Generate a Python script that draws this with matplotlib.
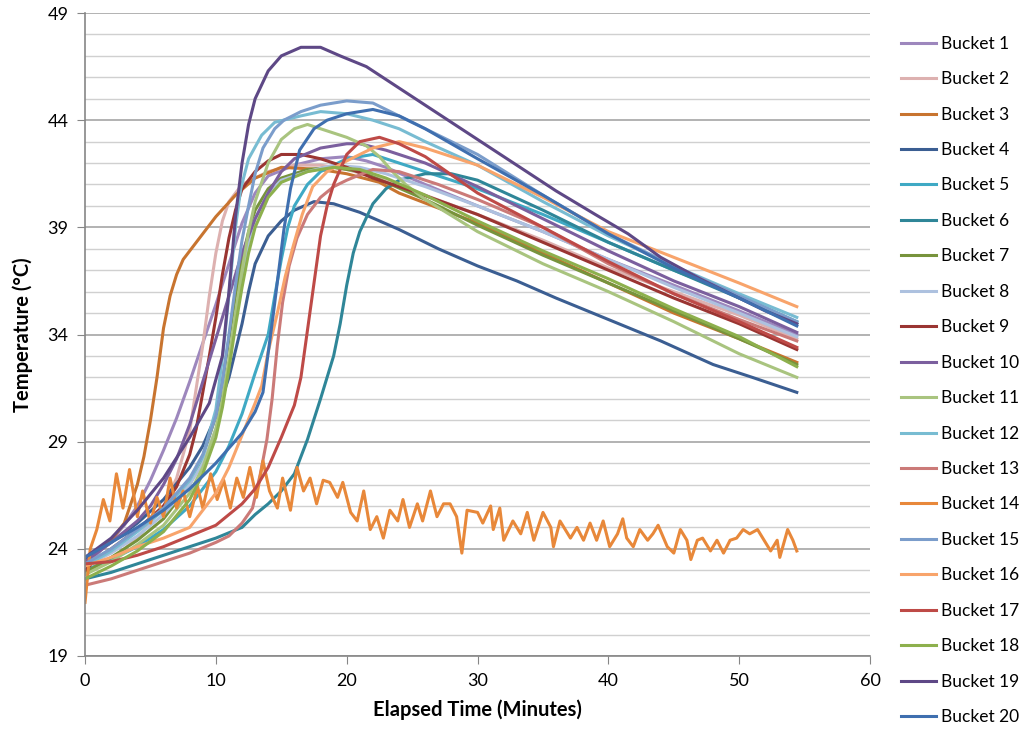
import matplotlib
matplotlib.use("Agg")
import matplotlib.pyplot as plt
from matplotlib.ticker import MultipleLocator

plt.rcParams["font.family"] = ["Lato", "DejaVu Sans"]

# ---- data (minutes, deg C) ----
b1_t = [0, 1, 2, 3, 4, 5, 6, 7, 8, 9, 10, 11, 12, 13, 14, 16, 18, 20, 21.5, 23, 26, 30, 35, 40, 45, 50, 54.4]
b1_temp = [23.3, 23.8, 24.4, 25.1, 26.0, 27.2, 28.6, 30.1, 31.8, 33.6, 35.4, 37.3, 39.2, 40.6, 41.4, 41.9, 42.2, 42.3, 42.1, 41.8, 41.0, 40.0, 38.8, 37.5, 36.3, 35.1, 34.0]

b2_t = [0, 2, 4, 6, 7, 8, 8.5, 9, 9.5, 10, 10.5, 11, 12, 14, 16, 18, 20, 23, 26, 30, 35, 40, 45, 50, 54.4]
b2_temp = [22.8, 23.5, 24.5, 26.0, 27.3, 29.5, 31.5, 33.5, 35.8, 37.8, 39.3, 40.2, 41.0, 41.6, 41.9, 41.9, 41.7, 41.2, 40.5, 39.6, 38.4, 37.1, 36.0, 34.9, 33.8]

b3_t = [0, 1, 2, 3, 4, 4.5, 5, 5.5, 6, 6.5, 7, 7.5, 8.5, 10, 11.5, 13, 15, 18, 20, 22.5, 24, 30, 35, 40, 45, 50, 54.4]
b3_temp = [23.3, 23.9, 24.4, 25.2, 27.0, 28.3, 30.0, 32.0, 34.3, 35.8, 36.8, 37.5, 38.3, 39.5, 40.5, 41.3, 41.8, 41.7, 41.5, 41.1, 40.6, 39.2, 37.8, 36.4, 35.0, 33.8, 32.7]

b4_t = [0, 2, 4, 6, 8, 9, 10, 11, 12, 12.5, 13, 14, 15, 16, 17.5, 19, 21, 24, 27, 30, 33, 36, 40, 44, 48, 51, 54.4]
b4_temp = [23.5, 24.3, 25.2, 26.3, 27.8, 28.8, 30.2, 32.0, 34.5, 36.0, 37.3, 38.6, 39.3, 39.8, 40.2, 40.1, 39.7, 38.9, 38.0, 37.2, 36.5, 35.7, 34.7, 33.7, 32.6, 32.0, 31.3]

b5_t = [0, 2, 4, 6, 8, 10, 11, 12, 13, 14, 14.5, 15, 15.5, 16, 17, 18, 20, 22, 24, 27, 30, 35, 40, 45, 50, 54.4]
b5_temp = [23.0, 23.5, 24.1, 24.9, 26.0, 27.6, 28.8, 30.3, 32.2, 34.0, 35.8, 37.5, 39.0, 40.0, 41.0, 41.6, 42.2, 42.4, 42.0, 41.4, 40.8, 39.6, 38.3, 37.0, 35.8, 34.6]

b6_t = [0, 2, 4, 6, 8, 10, 12, 13, 14, 15, 16, 17, 18, 18.5, 19, 19.5, 20, 20.5, 21, 22, 23, 24, 26, 28, 30, 35, 40, 45, 50, 54.4]
b6_temp = [22.6, 22.9, 23.3, 23.7, 24.1, 24.5, 25.0, 25.6, 26.1, 26.7, 27.5, 29.1, 31.0, 32.0, 33.0, 34.5, 36.3, 37.8, 38.8, 40.1, 40.8, 41.2, 41.5, 41.5, 41.2, 39.8, 38.3, 37.0, 35.7, 34.5]

b7_t = [0, 2, 4, 6, 8, 9, 10, 10.5, 11, 11.5, 12, 12.5, 13, 14, 15, 17, 19, 21, 23, 26, 30, 35, 40, 45, 50, 54.4]
b7_temp = [22.9, 23.6, 24.4, 25.4, 27.0, 28.3, 30.2, 31.8, 33.8, 35.8, 37.5, 38.8, 39.8, 40.8, 41.3, 41.7, 41.8, 41.6, 41.1, 40.3, 39.1, 37.7, 36.4, 35.1, 33.8, 32.6]

b8_t = [0, 2, 4, 6, 8, 9, 10, 10.5, 11, 11.5, 12, 12.5, 13, 14, 15, 17, 19, 21, 23, 26, 30, 35, 40, 45, 50, 54.4]
b8_temp = [23.2, 23.8, 24.6, 25.6, 27.0, 28.0, 29.6, 30.8, 32.6, 34.8, 36.8, 38.3, 39.4, 40.6, 41.2, 41.6, 41.9, 41.8, 41.5, 40.9, 40.0, 38.8, 37.5, 36.2, 35.0, 33.9]

b9_t = [0, 1, 2, 4, 6, 7, 8, 8.5, 9, 9.5, 10, 10.5, 11, 11.5, 12, 13, 14, 15, 16.5, 18, 20, 22, 25, 30, 35, 40, 45, 50, 54.4]
b9_temp = [23.0, 23.6, 24.0, 24.9, 26.0, 26.9, 28.4, 29.6, 31.3, 33.0, 34.8, 36.8, 38.5, 39.8, 40.8, 41.6, 42.1, 42.4, 42.4, 42.2, 41.8, 41.3, 40.7, 39.6, 38.3, 37.0, 35.7, 34.5, 33.3]

b10_t = [0, 2, 4, 5, 6, 7, 8, 9, 10, 11, 12, 13, 14, 15, 16, 18, 20, 21, 23, 26, 30, 35, 40, 45, 50, 54.4]
b10_temp = [23.4, 24.3, 25.3, 26.0, 27.0, 28.2, 29.8, 31.8, 33.8, 35.8, 37.8, 39.4, 40.6, 41.6, 42.2, 42.7, 42.9, 42.9, 42.6, 42.0, 40.9, 39.4, 37.9, 36.5, 35.3, 34.1]

b11_t = [0, 2, 4, 6, 8, 9, 10, 10.5, 11, 11.5, 12, 12.5, 13, 14, 15, 16, 17, 18, 20, 21.5, 22.5, 23.5, 24.5, 26, 30, 35, 40, 45, 50, 54.4]
b11_temp = [22.8, 23.4, 24.2, 25.1, 26.6, 27.8, 29.6, 31.0, 32.8, 35.0, 37.0, 38.8, 40.2, 42.0, 43.1, 43.6, 43.8, 43.6, 43.2, 42.8, 42.3, 41.6, 41.0, 40.3, 38.8, 37.3, 36.0, 34.6, 33.1, 32.0]

b12_t = [0, 2, 4, 6, 8, 9, 10, 10.6, 11.1, 11.5, 11.9, 12.5, 13.5, 14.5, 16.5, 18, 20, 22, 24, 26, 30, 35, 40, 45, 50, 54.4]
b12_temp = [23.2, 23.9, 24.8, 25.8, 27.2, 28.3, 30.5, 33.4, 36.5, 39.0, 40.8, 42.2, 43.3, 43.9, 44.2, 44.4, 44.3, 44.0, 43.6, 43.0, 41.9, 40.2, 38.6, 37.2, 35.9, 34.8]

b13_t = [0, 2, 4, 6, 8, 10, 11, 12, 12.8, 13.4, 13.9, 14.3, 14.7, 15.1, 15.6, 16.2, 17, 18, 19, 20, 22, 24, 27, 30, 35, 40, 45, 50, 54.4]
b13_temp = [22.3, 22.6, 23.0, 23.4, 23.8, 24.3, 24.6, 25.2, 25.9, 27.5, 29.1, 31.0, 33.5, 35.5, 37.2, 38.5, 39.6, 40.4, 40.9, 41.2, 41.7, 41.6, 41.0, 40.3, 39.0, 37.3, 35.9, 34.7, 33.7]

b14_t = [0.0, 0.4, 0.9, 1.4, 1.9, 2.4, 2.9, 3.4, 4.0, 4.4, 5.0, 5.5, 6.0, 6.5, 7.0, 7.5, 8.0, 8.6, 9.0, 9.6,
         10.1, 10.6, 11.1, 11.6, 12.1, 12.6, 13.1, 13.6, 14.1, 14.7, 15.1, 15.7, 16.2, 16.7, 17.2, 17.7, 18.2, 18.7, 19.3, 19.7,
         20.3, 20.8, 21.3, 21.8, 22.3, 22.8, 23.3, 23.9, 24.3, 24.8, 25.4, 25.8, 26.4, 26.9, 27.4,
         27.9, 28.4, 28.8, 29.2, 30.0, 30.4, 31.0, 31.2, 31.7, 32.0, 32.7, 33.3, 33.8, 34.3, 35.0, 35.6, 35.8, 36.3, 37.1,
         37.6, 38.1, 38.6, 39.1, 39.6, 40.1, 40.7, 41.1, 41.4, 41.9, 42.4, 43.0, 43.4, 43.8, 44.5, 45.0, 45.5, 46.0, 46.3,
         46.8, 47.2, 47.8, 48.3, 48.8, 49.3, 49.8, 50.3, 50.8, 51.4, 51.8, 52.4, 52.9, 53.1, 53.7, 54.1, 54.4]
b14_temp = [21.5, 24.0, 24.9, 26.3, 25.3, 27.5, 25.9, 27.7, 25.5, 26.7, 25.2, 26.4, 25.5, 27.3, 25.9, 26.7, 25.5, 26.9, 25.9, 27.5,
            26.3, 27.2, 25.9, 27.3, 26.4, 27.8, 26.4, 28.1, 26.7, 25.9, 27.3, 25.8, 27.8, 26.7, 27.3, 26.1, 27.2, 27.1, 26.4, 27.1,
            25.7, 25.3, 26.7, 24.9, 25.5, 24.5, 25.8, 25.3, 26.3, 25.0, 26.1, 25.3, 26.7, 25.5, 26.1,
            26.1, 25.5, 23.8, 25.8, 25.7, 25.2, 26.0, 24.9, 25.9, 24.4, 25.3, 24.7, 25.7, 24.4, 25.7, 25.0, 24.1, 25.3, 24.5,
            25.0, 24.4, 25.2, 24.4, 25.3, 24.1, 24.7, 25.4, 24.5, 24.1, 24.9, 24.4, 24.7, 25.1, 24.1, 23.8, 24.9, 24.4, 23.5,
            24.4, 24.5, 23.9, 24.4, 23.8, 24.4, 24.5, 24.9, 24.7, 24.9, 24.5, 23.9, 24.4, 23.6, 24.9, 24.4, 23.9]

b15_t = [0, 2, 4, 6, 8, 9, 10, 10.5, 11, 11.5, 12, 12.5, 13, 13.6, 14.5, 15.2, 16.5, 18, 20, 22, 24, 26, 28, 30, 35, 40, 45, 50, 54.4]
b15_temp = [23.3, 24.0, 24.9, 25.9, 27.3, 28.4, 30.2, 31.8, 34.0, 36.3, 38.4, 40.0, 41.5, 42.7, 43.6, 44.0, 44.4, 44.7, 44.9, 44.8, 44.2, 43.6, 43.0, 42.4, 40.5, 38.7, 37.2, 35.8, 34.6]

b16_t = [0, 2, 4, 6, 8, 10, 11, 12, 13, 13.5, 14, 14.7, 15.3, 15.9, 16.6, 17.4, 18.5, 20, 22, 24, 26, 30, 35, 40, 45, 50, 54.4]
b16_temp = [23.2, 23.6, 24.1, 24.5, 25.0, 26.6, 27.8, 29.3, 30.8, 31.6, 33.2, 35.0, 36.7, 38.1, 39.6, 40.9, 41.6, 42.1, 42.7, 43.0, 42.7, 41.9, 40.4, 38.8, 37.6, 36.4, 35.3]

b17_t = [0, 2, 4, 6, 8, 10, 12, 13, 14, 15, 16, 16.5, 17, 17.5, 18, 18.5, 19, 20, 21, 22.5, 24, 26, 30, 35, 40, 45, 50, 54.4]
b17_temp = [23.3, 23.4, 23.7, 24.1, 24.6, 25.1, 26.1, 26.8, 27.8, 29.2, 30.7, 32.0, 34.2, 36.4, 38.6, 40.0, 41.0, 42.4, 43.0, 43.2, 42.9, 42.3, 40.6, 39.0, 37.4, 35.9, 34.6, 33.4]

b18_t = [0, 2, 4, 6, 8, 9, 10, 10.5, 11, 11.5, 12, 12.5, 13, 14, 15, 17, 19, 21, 23, 26, 30, 35, 40, 45, 50, 54.4]
b18_temp = [22.6, 23.2, 23.9, 24.8, 26.3, 27.5, 29.2, 30.6, 32.4, 34.4, 36.2, 37.8, 39.0, 40.4, 41.1, 41.6, 41.8, 41.7, 41.3, 40.5, 39.3, 37.9, 36.6, 35.2, 33.9, 32.5]

b19_t = [0, 2, 4, 6, 8, 9.5, 10.5, 11, 11.5, 12, 12.5, 13, 14, 15, 16.5, 18, 19.5, 21.5, 24, 26.5, 29, 31, 34, 36, 39, 41.5, 44, 47, 50, 52, 54.4]
b19_temp = [23.6, 24.5, 25.8, 27.3, 29.2, 30.8, 33.0, 36.0, 39.5, 42.0, 43.8, 45.0, 46.3, 47.0, 47.4, 47.4, 47.0, 46.5, 45.5, 44.5, 43.5, 42.7, 41.5, 40.7, 39.6, 38.7, 37.6, 36.6, 35.7, 35.1, 34.5]

b20_t = [0, 2, 4, 6, 8, 10, 12, 13, 13.6, 14.4, 15.2, 15.7, 16.4, 17.5, 18.5, 20, 22, 24, 26, 28, 30, 35, 40, 45, 50, 54.4]
b20_temp = [23.6, 24.3, 25.0, 25.8, 26.8, 28.0, 29.4, 30.4, 31.3, 35.0, 38.9, 40.8, 42.6, 43.6, 44.0, 44.3, 44.5, 44.2, 43.6, 42.9, 42.2, 40.5, 38.7, 37.1, 35.7, 34.4]

labels = ["Bucket %d" % i for i in range(1, 21)]
colors = ["#9D87BD", "#DDB1B0", "#C8742F", "#3B5E92", "#3FA9C4",
          "#2F8698", "#77933C", "#ADC1DF", "#9A3532", "#7B5F9E",
          "#A9C47F", "#78BCD2", "#CB7A78", "#E8883A", "#7B9DCB",
          "#F8A46B", "#BE4A47", "#8DB04D", "#5E4886", "#3F6FAF"]
series = [(b1_t, b1_temp), (b2_t, b2_temp), (b3_t, b3_temp), (b4_t, b4_temp), (b5_t, b5_temp),
          (b6_t, b6_temp), (b7_t, b7_temp), (b8_t, b8_temp), (b9_t, b9_temp), (b10_t, b10_temp),
          (b11_t, b11_temp), (b12_t, b12_temp), (b13_t, b13_temp), (b14_t, b14_temp), (b15_t, b15_temp),
          (b16_t, b16_temp), (b17_t, b17_temp), (b18_t, b18_temp), (b19_t, b19_temp), (b20_t, b20_temp)]
y_ticks = [19, 24, 29, 34, 39, 44, 49]

fig = plt.figure(figsize=(10.27, 7.44), dpi=100)
ax = fig.add_axes([0.0828, 0.1183, 0.7644, 0.8642])

for (t, temp), lab, col in zip(series, labels, colors):
    ax.plot(t, temp, color=col, linewidth=2.2, label=lab, solid_joinstyle="round")

ax.set_xlim(0, 60)
ax.set_ylim(19, 49)
ax.xaxis.set_major_locator(MultipleLocator(10))
ax.set_yticks(y_ticks)
ax.yaxis.set_minor_locator(MultipleLocator(1))
ax.grid(True, which="major", axis="y", color="#A6A6A6", linewidth=1.2)
ax.grid(True, which="minor", axis="y", color="#D0D0D0", linewidth=1.0)
ax.set_axisbelow(True)
for side in ("top", "right"):
    ax.spines[side].set_visible(False)
for side in ("left", "bottom"):
    ax.spines[side].set_color("#868686")
    ax.spines[side].set_linewidth(1.2)
ax.tick_params(which="major", direction="out", length=6, color="#868686", labelsize=13, pad=6)
ax.tick_params(which="minor", length=0)

ax.set_xlabel("Elapsed Time (Minutes)", fontsize=14.5, fontweight="bold", labelpad=8)
ax.set_ylabel("Temperature (°C)", fontsize=14.5, fontweight="bold", labelpad=10)

ax.legend(loc="upper left", bbox_to_anchor=(0.862, 0.973), bbox_transform=fig.transFigure,
          frameon=False, fontsize=12.5, handlelength=2.0, handletextpad=0.3, labelspacing=1.12)

fig.savefig("out.png", dpi=100)
